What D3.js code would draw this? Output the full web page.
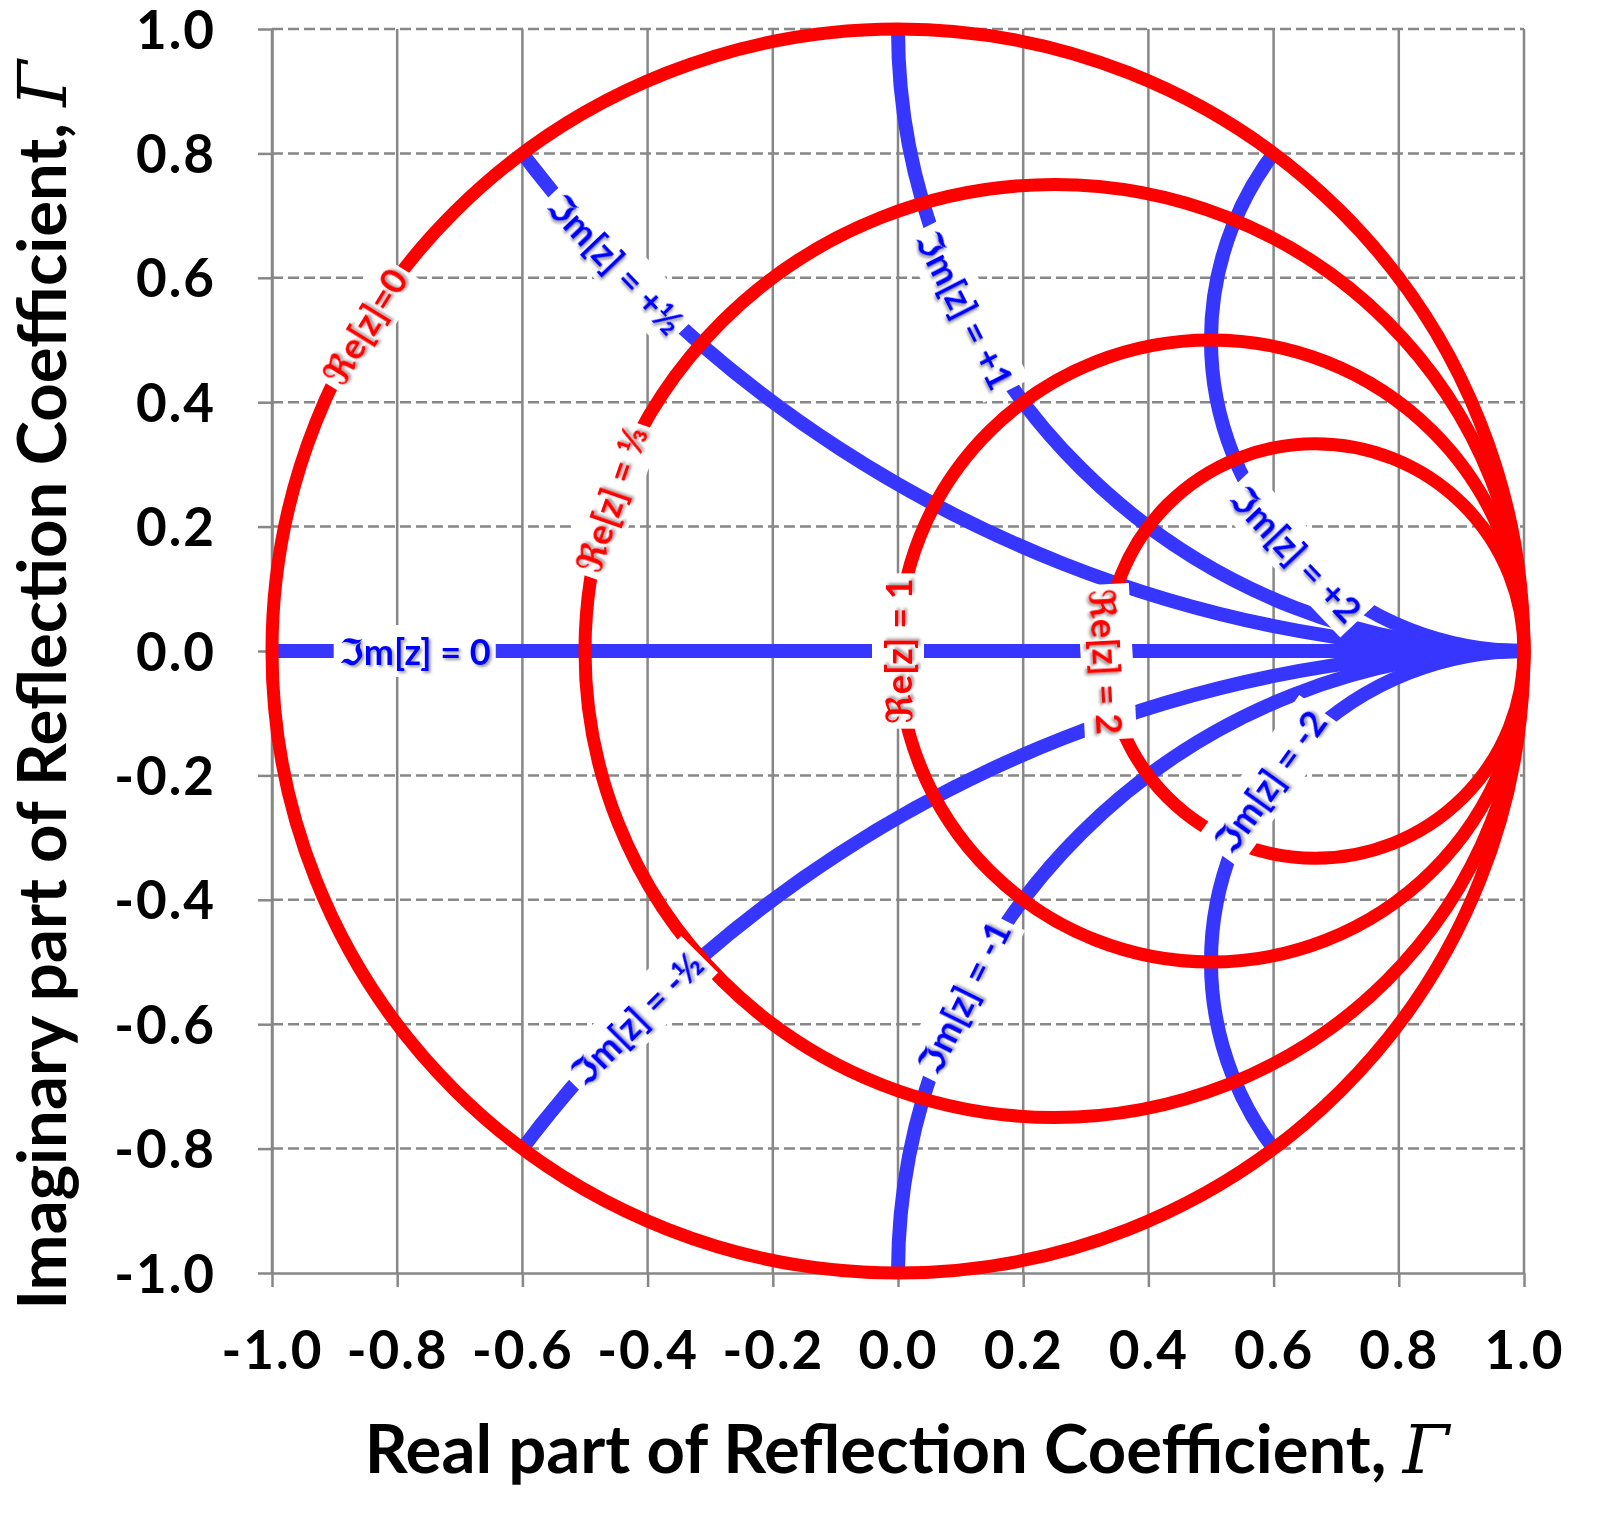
<!DOCTYPE html>
<html>
<head>
<meta charset="utf-8">
<script src="https://cdn.jsdelivr.net/npm/d3@7"></script>
<style>
	body { margin: 0; background: #fff; }
	svg { display: block; }
	.axis text { font-family: Lato, 'DejaVu Sans', sans-serif; font-weight: 700; font-size: 53px; letter-spacing: 2px; fill: #000; }
	.axis line, .axis path { stroke: #878787; stroke-width: 2.5; }
	.title { font-family: Lato, 'DejaVu Sans', sans-serif; font-weight: 700; font-size: 67px; fill: #000; }
	.gamma { font-family: 'DejaVu Serif', 'Liberation Serif', serif; font-style: italic; font-weight: 400; }
	.curve-label { font-family: Lato, 'DejaVu Sans', sans-serif; font-weight: 700; font-size: 36px; }
</style>
</head>
<body>
<div id="chart"></div>
<script>
// axis ticks and the text printed under them
var tickValues = [-1.0, -0.8, -0.6, -0.4, -0.2, 0.0, 0.2, 0.4, 0.6, 0.8, 1.0];
var tickLabels = ['-1.0', '-0.8', '-0.6', '-0.4', '-0.2', '0.0', '0.2', '0.4', '0.6', '0.8', '1.0'];

// normalised resistance circles (red) and reactance arcs (blue)
var resistances = [0, 1 / 3, 1, 2];
var resistanceNames = ['ℜe[z]=0', 'ℜe[z] = ⅓', 'ℜe[z] = 1', 'ℜe[z] = 2'];
var reactances = [0.5, 1, 2, -0.5, -1, -2];
var reactanceNames = ['ℑm[z] = +½', 'ℑm[z] = +1', 'ℑm[z] = +2', 'ℑm[z] = -½', 'ℑm[z] = -1', 'ℑm[z] = -2'];
var realLineName = 'ℑm[z] = 0';

// where the labels sit: angle (deg) around each circle, and Γ for the real axis
var resistanceLabelAt = [148.5, 161, 180, 183];
var reactanceLabelAt = [223.5, 206.8, 223.3, 135.2, 153.7, 144.5];
var realLineLabelAt = -0.772;

const WIDTH = 1600;
const HEIGHT = 1514;
const RED = '#ff0000';
const BLUE = '#3636ff';
const GRID = '#878787';

var x = d3.scaleLinear().domain([-1, 1]).range([272, 1524]);
var y = d3.scaleLinear().domain([-1, 1]).range([1273, 29]);
var kx = x(1) - x(0);
var ky = y(0) - y(1);

var svg = d3.select('#chart').append('svg')
	.attr('width', WIDTH)
	.attr('height', HEIGHT);

var defs = svg.append('defs');
defs.append('clipPath').attr('id', 'disc')
	.append('ellipse')
	.attr('cx', x(0)).attr('cy', y(0))
	.attr('rx', kx).attr('ry', ky);
var shadow = defs.append('filter').attr('id', 'shadow')
	.attr('x', '-10%').attr('y', '-30%').attr('width', '120%').attr('height', '160%');
shadow.append('feDropShadow')
	.attr('dx', 2).attr('dy', 2).attr('stdDeviation', 1.5)
	.attr('flood-color', '#000').attr('flood-opacity', 0.4);

// grid: solid verticals, dashed horizontals
var grid = svg.append('g').attr('stroke', GRID).attr('stroke-width', 2.5);
grid.selectAll('.v').data(tickValues).enter().append('line')
	.attr('class', 'v')
	.attr('x1', function (d) { return x(d); })
	.attr('x2', function (d) { return x(d); })
	.attr('y1', y(1)).attr('y2', y(-1));
grid.selectAll('.h').data(tickValues.filter(function (d) { return d > -1; })).enter().append('line')
	.attr('class', 'h')
	.attr('x1', x(-1)).attr('x2', x(1))
	.attr('y1', function (d) { return y(d); })
	.attr('y2', function (d) { return y(d); })
	.attr('stroke-dasharray', '11,5');

var xAxis = d3.axisBottom(x)
	.tickValues(tickValues)
	.tickFormat(function (d, i) { return tickLabels[i]; })
	.tickSize(14).tickSizeOuter(0).tickPadding(63);
svg.append('g').attr('class', 'axis')
	.attr('transform', 'translate(0,' + y(-1) + ')')
	.call(xAxis);

var yAxis = d3.axisLeft(y)
	.tickValues(tickValues)
	.tickFormat(function (d, i) { return tickLabels[i]; })
	.tickSize(14).tickSizeOuter(0).tickPadding(42);
svg.append('g').attr('class', 'axis')
	.attr('transform', 'translate(' + x(-1) + ',0)')
	.call(yAxis);
svg.selectAll('.axis .tick text').attr('dy', '0.36em');

var xTitle = svg.append('text').attr('class', 'title')
	.attr('x', 907).attr('y', 1473)
	.attr('text-anchor', 'middle');
xTitle.append('tspan').text('Real part of Reflection Coefficient, ');
xTitle.append('tspan').attr('class', 'gamma').text('Γ');

var yTitle = svg.append('text').attr('class', 'title')
	.attr('transform', 'translate(66,685) rotate(-90)')
	.attr('text-anchor', 'middle');
yTitle.append('tspan').text('Imaginary part of Reflection Coefficient, ');
yTitle.append('tspan').attr('class', 'gamma').text('Γ');

// reactance arcs, kept inside |Γ| <= 1
var blue = svg.append('g')
	.attr('clip-path', 'url(#disc)')
	.attr('fill', 'none')
	.attr('stroke', BLUE)
	.attr('stroke-width', 14);
blue.append('line')
	.attr('x1', x(-1)).attr('x2', x(1))
	.attr('y1', y(0)).attr('y2', y(0));
blue.selectAll('ellipse').data(reactances).enter().append('ellipse')
	.attr('cx', x(1))
	.attr('cy', function (d) { return y(1 / d); })
	.attr('rx', function (d) { return kx / Math.abs(d); })
	.attr('ry', function (d) { return ky / Math.abs(d); });

// resistance circles
var red = svg.append('g')
	.attr('fill', 'none')
	.attr('stroke', RED)
	.attr('stroke-width', 13);
red.selectAll('ellipse').data(resistances).enter().append('ellipse')
	.attr('cx', function (d) { return x(d / (1 + d)); })
	.attr('cy', y(0))
	.attr('rx', function (d) { return kx / (1 + d); })
	.attr('ry', function (d) { return ky / (1 + d); });

var labels = svg.append('g');

function putLabel (px, py, rot, name, color) {
	var g = labels.append('g')
		.attr('transform', 'translate(' + px + ',' + py + ') rotate(' + rot + ')');
	var box = g.append('rect').attr('fill', '#fff');
	var text = g.append('text')
		.attr('class', 'curve-label')
		.attr('text-anchor', 'middle')
		.attr('dominant-baseline', 'central')
		.attr('fill', color)
		.attr('filter', 'url(#shadow)')
		.text(name);
	var b = text.node().getBBox();
	box.attr('x', b.x - 5).attr('y', b.y - 4)
		.attr('width', b.width + 10).attr('height', b.height + 8);
}

function labelOnCircle (cx, cy, r, deg, name, color) {
	var a = deg * Math.PI / 180;
	var px = x(cx + r * Math.cos(a));
	var py = y(cy + r * Math.sin(a));
	var rot = Math.atan2(-Math.cos(a) * ky, -Math.sin(a) * kx) * 180 / Math.PI;
	if (rot >= 90) rot -= 180;
	if (rot < -90) rot += 180;
	putLabel(px, py, rot, name, color);
}

putLabel(x(realLineLabelAt), y(0), 0, realLineName, '#0000ff');
reactances.forEach(function (d, i) {
	labelOnCircle(1, 1 / d, 1 / Math.abs(d), reactanceLabelAt[i], reactanceNames[i], '#0000ff');
});
resistances.forEach(function (d, i) {
	labelOnCircle(d / (1 + d), 0, 1 / (1 + d), resistanceLabelAt[i], resistanceNames[i], RED);
});
</script>
</body>
</html>
